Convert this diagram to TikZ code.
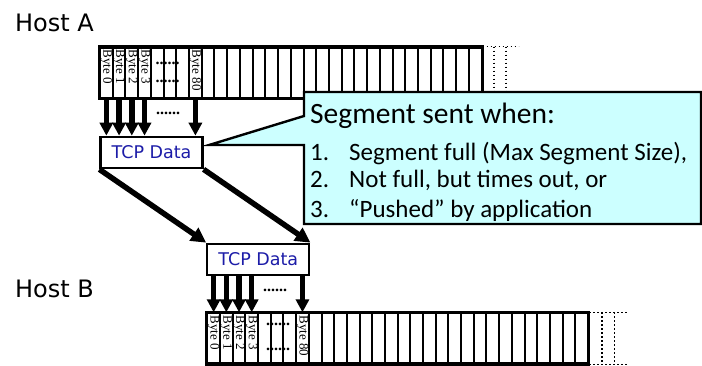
\documentclass[tikz,border=0pt]{standalone}
\usepackage{fontspec}
\usetikzlibrary{arrows.meta,calc}
\newfontfamily\calfont{Carlito}
\newfontfamily\handfont{DejaVu Sans}
\newfontfamily\serfont{Liberation Serif}
\definecolor{calloutfill}{HTML}{CCFFFF}
\definecolor{tcpblue}{HTML}{1C1CA8}
\tikzset{
  cellbox/.style={draw, line width=2pt, rectangle, inner sep=0pt,
    minimum height=50pt},
  bytelabel/.style={rotate=-90, anchor=west, inner sep=0pt,
    font=\serfont\fontsize{13}{13}\selectfont},
  tcpbox/.style={draw, line width=2.2pt, fill=white, rectangle, inner sep=0pt,
    minimum width=102pt, minimum height=31.5pt,
    font=\handfont\fontsize{17.5}{17.5}\selectfont, text=tcpblue},
  hostlabel/.style={anchor=base west, inner sep=0pt,
    font=\handfont\fontsize{24}{24}\selectfont},
  bytearrow/.style={line width=5.5pt, -{Triangle[width=13pt,length=13pt]}},
  segarrow/.style={line width=5.5pt, -{Triangle[width=15pt,length=15pt]}},
  dotline/.style={line width=1.6pt, dash pattern=on 1.6pt off 2.4pt},
  calloutline/.style={draw, line width=2.4pt, fill=calloutfill, line join=miter},
  callouttext/.style={anchor=base west, inner sep=0pt, font=\calfont\fontsize{25}{25}\selectfont},
  dotsmark/.style={inner sep=0pt, font=\serfont\bfseries\fontsize{16}{16}\selectfont},
}
\begin{document}
\begin{tikzpicture}[x=1pt,y=-1pt]
\useasboundingbox (0,0) rectangle (702,365);

% Host labels
\node[hostlabel] (hostA) at (15,31) {Host A};
\node[hostlabel] (hostB) at (15,297) {Host B};

% Sending buffer (Host A): 30 byte cells
\foreach \i in {1,...,30}
  \node[cellbox, minimum width=12.72pt] (a\i) at ({100+(\i-0.5)*12.72},72.5) {};
\draw[line width=2.4pt] (a1.north west) rectangle (a30.south east);
\coordinate (aend) at (a30.north east);
\draw[dotline] (aend) -- ++(36,0);
\draw[dotline] ($(aend)+(11.5,0)$) -- ++(0,50);
\draw[dotline] ($(aend)+(23.5,0)$) -- ++(0,50);
\draw[dotline] (a30.south east) -- ++(36,0);
\foreach \i/\t in {1/0,2/1,3/2,4/3,8/80}
  \node[bytelabel] at ($(a\i.north)+(0,3)$) {Byte \t};
\node[dotsmark] (adots1) at (167.5,63) {......};
\node[dotsmark] (adots2) at (167.5,81) {......};

% Segment on the sender side
\node[tcpbox] (tcpA) at (151.5,152.5) {TCP Data};
\foreach \i in {1,2,3,4,8}
  \draw[bytearrow] (a\i.south) -- (a\i.south |- tcpA.north);
\node[dotsmark] (adots3) at (168,113) {......};

% Segment on the receiver side
\node[tcpbox] (tcpB) at (258.3,259.5) {TCP Data};

% Segment travels from A to B
\draw[segarrow] (tcpA.south west) -- (tcpB.north west);
\draw[segarrow] (tcpA.south east) -- (tcpB.north east);

% Callout with the sending conditions
\coordinate (tip) at ($(tcpA.east)+(5.5,-7.5)$);
\path[calloutline] (304,92) -- (701,92) -- (701,224) -- (304,224)
  -- (304,145) -- (tip) -- (304,116) -- cycle;
\node[callouttext, font=\calfont\fontsize{29.5}{29.5}\selectfont] (ctitle) at (310,123) {Segment sent when:};
\node[callouttext] (n1) at (310,160) {1.};
\node[callouttext] (t1) at (349,160) {Segment full (Max Segment Size),};
\node[callouttext] (n2) at (310,187) {2.};
\node[callouttext] (t2) at (349,187) {Not full, but times out, or};
\node[callouttext] (n3) at (310,217) {3.};
\node[callouttext] (t3) at (349,217) {“Pushed” by application};

% Receiving buffer (Host B): 30 byte cells
\foreach \i in {1,...,30}
  \node[cellbox, minimum width=12.69pt] (b\i) at ({207.3+(\i-0.5)*12.69},338.3) {};
\draw[line width=2.4pt] (b1.north west) rectangle (b30.south east);
\coordinate (bend) at (b30.north east);
\draw[dotline] (bend) -- ++(39,0);
\draw[dotline] ($(bend)+(12.7,0)$) -- ++(0,50);
\draw[dotline] ($(bend)+(25.3,0)$) -- ++(0,50);
\draw[dotline] (b30.south east) -- ++(39,0);
\foreach \i/\t in {1/0,2/1,3/2,4/3,8/80}
  \node[bytelabel] at ($(b\i.north)+(0,3)$) {Byte \t};
\node[dotsmark] (bdots1) at (278,324) {......};
\node[dotsmark] (bdots2) at (278,349) {......};

\foreach \i in {1,2,3,4,8}
  \draw[bytearrow] (b\i.north |- tcpB.south) -- (b\i.north);
\node[dotsmark] (bdots3) at (275,290) {......};
\end{tikzpicture}
\end{document}
